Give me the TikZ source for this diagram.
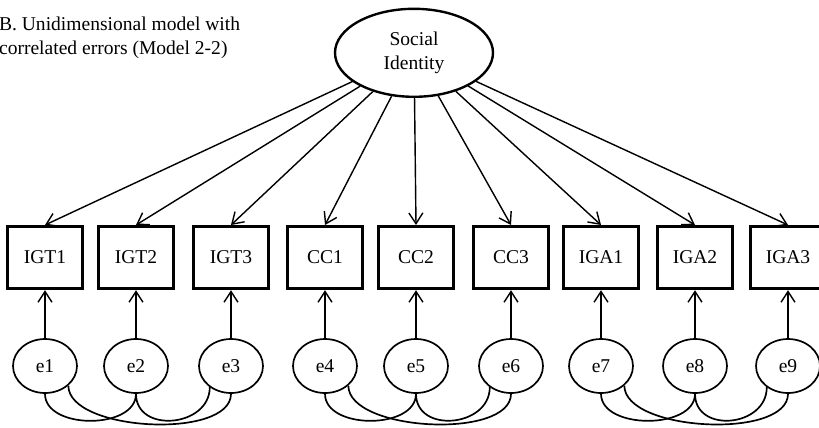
\documentclass[tikz,border=0pt]{standalone}
\usepackage{fontspec}
\setmainfont{Liberation Serif}
\usepackage{tikz}
\usetikzlibrary{arrows.meta,shapes.geometric}

\begin{document}
\begin{tikzpicture}[
    font=\fontsize{13.9}{17}\selectfont,
    >={Straight Barb[length=2.7mm,width=3.5mm]},
    latent/.style={
        draw,
        ellipse,
        line width=1.7pt,
        minimum width=3.95cm,
        minimum height=2.2cm,
        inner sep=0pt,
        align=center
    },
    indicator/.style={
        draw,
        rectangle,
        line width=2pt,
        minimum width=1.875cm,
        minimum height=1.56cm,
        inner sep=0pt
    },
    errorterm/.style={
        draw,
        ellipse,
        line width=1.2pt,
        minimum width=1.6cm,
        minimum height=1.35cm,
        inner sep=0pt
    },
    load/.style={
        ->,
        line width=1pt
    },
    corr/.style={
        line width=1.2pt
    }
]

\useasboundingbox (0,0) rectangle (20.475,-10.675);

% Title
\node[anchor=north west, align=left, inner sep=0pt] (title) at (-0.03,-0.42) {
    B. Unidimensional model with\\
    correlated errors (Model 2-2)
};

% Latent factor
\node[latent] (social) at (10.35,-1.32) {Social\\Identity};

% Indicator row
\node[indicator] (igt1) at (1.125,-6.44) {IGT1};
\node[indicator] (igt2) at (3.4,-6.44) {IGT2};
\node[indicator] (igt3) at (5.775,-6.44) {IGT3};
\node[indicator] (cc1) at (8.125,-6.44) {CC1};
\node[indicator] (cc2) at (10.4,-6.44) {CC2};
\node[indicator] (cc3) at (12.775,-6.44) {CC3};
\node[indicator] (iga1) at (15.025,-6.44) {IGA1};
\node[indicator] (iga2) at (17.375,-6.44) {IGA2};
\node[indicator] (iga3) at (19.7,-6.44) {IGA3};

% Error row
\node[errorterm] (e1) at (1.125,-9.15) {e1};
\node[errorterm] (e2) at (3.4,-9.15) {e2};
\node[errorterm] (e3) at (5.775,-9.15) {e3};
\node[errorterm] (e4) at (8.125,-9.15) {e4};
\node[errorterm] (e5) at (10.4,-9.15) {e5};
\node[errorterm] (e6) at (12.775,-9.15) {e6};
\node[errorterm] (e7) at (15.025,-9.15) {e7};
\node[errorterm] (e8) at (17.375,-9.15) {e8};
\node[errorterm] (e9) at (19.7,-9.15) {e9};

% Factor loadings
\draw[load] (social) -- (igt1.north);
\draw[load] (social) -- (igt2.north);
\draw[load] (social) -- (igt3.north);
\draw[load] (social) -- (cc1.north);
\draw[load] (social) -- (cc2.north);
\draw[load] (social) -- (cc3.north);
\draw[load] (social) -- (iga1.north);
\draw[load] (social) -- (iga2.north);
\draw[load] (social) -- (iga3.north);

% Errors to indicators
\draw[load] (e1) -- (igt1);
\draw[load] (e2) -- (igt2);
\draw[load] (e3) -- (igt3);
\draw[load] (e4) -- (cc1);
\draw[load] (e5) -- (cc2);
\draw[load] (e6) -- (cc3);
\draw[load] (e7) -- (iga1);
\draw[load] (e8) -- (iga2);
\draw[load] (e9) -- (iga3);

% Correlated errors, IGT block
\draw[corr] (e1.south) .. controls +(0,-0.9) and +(0,-0.9) .. (e2.south);
\draw[corr] (e1.-40) .. controls +(0,-1.15) and +(0,-1.15) .. (e3.south);
\draw[corr] (e2.south) .. controls +(0,-1.0) and +(0,-1.0) .. (e3.-135);

% Correlated errors, CC block
\draw[corr] (e4.south) .. controls +(0,-0.9) and +(0,-0.9) .. (e5.south);
\draw[corr] (e4.-40) .. controls +(0,-1.15) and +(0,-1.15) .. (e6.south);
\draw[corr] (e5.south) .. controls +(0,-1.0) and +(0,-1.0) .. (e6.-135);

% Correlated errors, IGA block
\draw[corr] (e7.south) .. controls +(0,-0.9) and +(0,-0.9) .. (e8.south);
\draw[corr] (e7.-40) .. controls +(0,-1.15) and +(0,-1.15) .. (e9.south);
\draw[corr] (e8.south) .. controls +(0,-1.0) and +(0,-1.0) .. (e9.-135);

\end{tikzpicture}
\end{document}
